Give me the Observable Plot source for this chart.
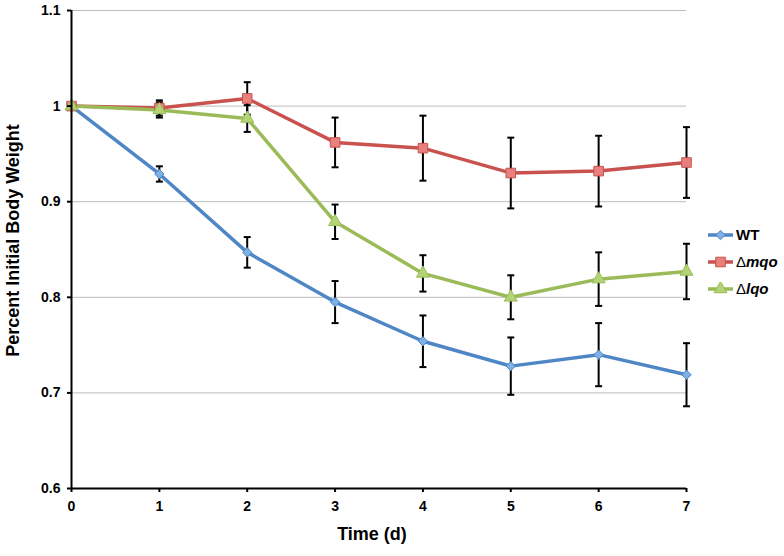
<!DOCTYPE html>
<html>
<head>
<meta charset="utf-8">
<script src="https://cdn.jsdelivr.net/npm/d3@7"></script>
<script src="https://cdn.jsdelivr.net/npm/@observablehq/plot@0.6"></script>
<style>
  html, body { margin: 0; padding: 0; background: #fff; }
  #wrap { position: relative; width: 784px; height: 556px; font-family: "Liberation Sans", Arial, sans-serif; }
  #legend { position: absolute; left: 707px; top: 221px; font-weight: bold; font-size: 15px; color: #000; }
  .row { display: flex; align-items: center; height: 27px; }
  .row svg { display: block; margin-right: 2px; }
  .delta { font-weight: normal; }
  .it { font-style: italic; }
  g[aria-label$="tick label"], g[aria-label$="tick label"] text { font-size: 14px !important; font-weight: bold; }
</style>
</head>
<body>
<div id="wrap"><div id="legend"></div></div>
<script>
// ---- data ----
const days = [0, 1, 2, 3, 4, 5, 6, 7];
const wtMean  = [1.000, 0.929, 0.847, 0.795, 0.754, 0.728, 0.740, 0.719];
const wtErr   = [0.000, 0.008, 0.016, 0.022, 0.027, 0.030, 0.033, 0.033];
const mqoMean = [1.000, 0.998, 1.008, 0.962, 0.956, 0.930, 0.932, 0.941];
const mqoErr  = [0.000, 0.008, 0.017, 0.026, 0.034, 0.037, 0.037, 0.037];
const lqoMean = [1.000, 0.996, 0.987, 0.879, 0.825, 0.800, 0.819, 0.827];
const lqoErr  = [0.000, 0.008, 0.014, 0.018, 0.019, 0.023, 0.028, 0.029];
const seriesNames = ["WT", "Δmqo", "Δlqo"];
const yTicks = [0.6, 0.7, 0.8, 0.9, 1.0, 1.1];
const xTicks = [0, 1, 2, 3, 4, 5, 6, 7];

const styles = {
  "WT":   {color: "#4f86c6", fill: "#7eb0e4", symbol: "diamond2", r: 4.2},
  "Δmqo": {color: "#c9524f", fill: "#e8807d", symbol: "square",   r: 5.4},
  "Δlqo": {color: "#9bbb59", fill: "#b3d475", symbol: "triangle", r: 4.8}
};

const means = [wtMean, mqoMean, lqoMean];
const errs = [wtErr, mqoErr, lqoErr];
const rows = [];
seriesNames.forEach((s, i) => days.forEach((d, j) => rows.push({series: s, day: d, value: means[i][j], err: errs[i][j]})));
const errRows = rows.filter(d => d.err > 0);

const capSymbol = { draw(ctx) { ctx.moveTo(-3.5, 0); ctx.lineTo(3.5, 0); } };
const fmt = d => String(+d.toFixed(1));

const marks = [
  Plot.gridY(yTicks.filter(t => t > 0.6), {stroke: "#bdbdbd", strokeOpacity: 1, strokeWidth: 1}),
  Plot.ruleX(errRows, {x: "day", y1: d => d.value - d.err, y2: d => d.value + d.err, stroke: "#000", strokeWidth: 2}),
  Plot.dot(errRows, {x: "day", y: d => d.value - d.err, symbol: capSymbol, stroke: "#000", strokeWidth: 2, fill: "none"}),
  Plot.dot(errRows, {x: "day", y: d => d.value + d.err, symbol: capSymbol, stroke: "#000", strokeWidth: 2, fill: "none"}),
];
for (const s of seriesNames) {
  const data = rows.filter(d => d.series === s);
  const st = styles[s];
  marks.push(Plot.line(data, {x: "day", y: "value", stroke: st.color, strokeWidth: 3.5}));
}
for (const s of seriesNames) {
  const data = rows.filter(d => d.series === s);
  const st = styles[s];
  marks.push(Plot.dot(data, {x: "day", y: "value", symbol: st.symbol, r: st.r, fill: st.fill, stroke: st.color, strokeWidth: 1}));
}
marks.push(
  Plot.ruleX([0], {stroke: "#000", strokeWidth: 2}),
  Plot.ruleY([0.6], {stroke: "#000", strokeWidth: 2}),
  Plot.axisY({ticks: yTicks, tickFormat: fmt, tickSize: 4, tickPadding: 7, strokeWidth: 2, label: null, fontSize: 14}),
  Plot.axisX({ticks: xTicks, tickFormat: d => String(d), tickSize: 4, tickPadding: 9, strokeWidth: 2, label: null, fontSize: 14}),
  Plot.text(["Percent Initial Body Weight"], {text: d => d, frameAnchor: "left", textAnchor: "middle", lineAnchor: "middle", rotate: -90, dx: -58, dy: -9, fontSize: 18, fontWeight: "bold"}),
  Plot.text(["Time (d)"], {text: d => d, frameAnchor: "bottom", textAnchor: "middle", lineAnchor: "middle", dx: -7, dy: 46, fontSize: 18, fontWeight: "bold"})
);

const chart = Plot.plot({
  width: 784,
  height: 556,
  marginLeft: 71,
  marginRight: 98,
  marginTop: 10,
  marginBottom: 68,
  x: {domain: [0, 7]},
  y: {domain: [0.6, 1.1]},
  style: {fontFamily: "'Liberation Sans', Arial, sans-serif", fontSize: "14px", fontWeight: "bold", color: "#000", background: "#fff", overflow: "visible"},
  marks
});
document.getElementById("wrap").prepend(chart);
chart.style.position = "absolute";
chart.style.left = "0";
chart.style.top = "0";

// ---- legend ----
const legend = document.getElementById("legend");
const symbolMap = {diamond2: d3.symbolDiamond2, square: d3.symbolSquare, triangle: d3.symbolTriangle};
for (const s of seriesNames) {
  const st = styles[s];
  const row = document.createElement("div");
  row.className = "row";
  const svg = d3.create("svg").attr("width", 27).attr("height", 14);
  svg.append("line").attr("x1", 1).attr("x2", 26).attr("y1", 7).attr("y2", 7).attr("stroke", st.color).attr("stroke-width", 3.5);
  svg.append("path").attr("transform", "translate(13.5,7)")
    .attr("d", d3.symbol(symbolMap[st.symbol], Math.PI * st.r * st.r)())
    .attr("fill", st.fill).attr("stroke", st.color).attr("stroke-width", 1);
  row.appendChild(svg.node());
  const label = document.createElement("span");
  if (s.startsWith("Δ")) {
    label.innerHTML = '<span class="delta">Δ</span><span class="it">' + s.slice(1) + '</span>';
  } else {
    label.textContent = s;
  }
  row.appendChild(label);
  legend.appendChild(row);
}
</script>
</body>
</html>
